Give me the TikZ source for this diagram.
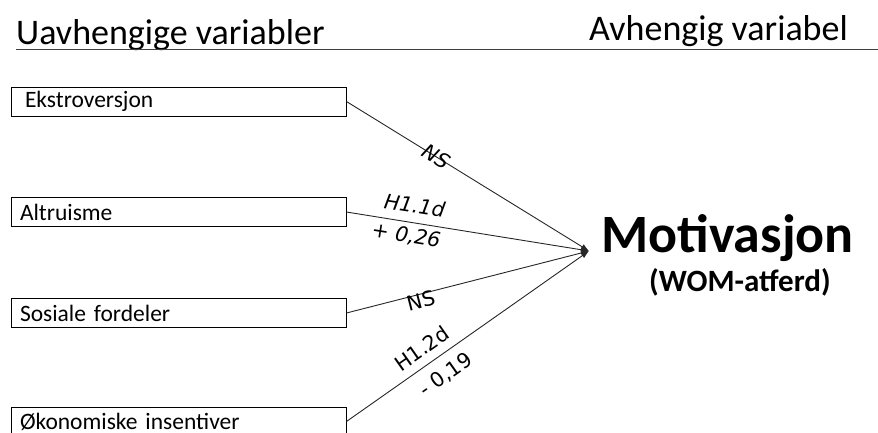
\documentclass[tikz,border=0pt]{standalone}
\usepackage{fontspec}
\setmainfont{Carlito}
\newfontfamily\lblfont{DejaVu Sans}
\usetikzlibrary{arrows.meta}

\tikzset{
  varbox/.style={draw=black, line width=0.9pt, minimum width=335pt, minimum height=29pt,
    text width=317pt, align=left, inner xsep=9pt, inner ysep=0pt,
    font=\fontsize{23.5}{25}\selectfont},
  link/.style={draw=black!85, line width=0.9pt, -{Latex[length=8pt,width=6pt]}},
  coef/.style={sloped, inner sep=1pt, font=\lblfont\fontsize{20.5}{22}\selectfont},
  coefit/.style={coef, font=\lblfont\itshape\fontsize{20.5}{22}\selectfont},
  header/.style={inner sep=0pt, font=\fontsize{36}{38}\selectfont}
}

\begin{document}
\begin{tikzpicture}[x=1pt, y=-1pt]
\useasboundingbox (0,0) rectangle (878,432);
\clip (0,0) rectangle (878,432);

% column headers and rule
\node[header, anchor=base west] (hl) at (16,44.5) {Uavhengige variabler};
\node[header, anchor=base east] (hr) at (848,40.5) {Avhengig variabel};
\draw[line width=1.3pt, black!75] (16,49.5) -- (878,49.5);

% independent variables
\node[varbox] (ek) at (178.5,101.5) {\hspace{5pt}Ekstroversjon};
\node[varbox] (al) at (178.5,212) {Altruisme};
\node[varbox] (so) at (178.5,313) {Sosiale fordeler};
\node[varbox] (ok) at (178.5,421.5) {Økonomiske insentiver};

% dependent variable
\coordinate (m) at (589,251);
\node[inner sep=0pt, anchor=base west, font=\bfseries\fontsize{54}{56}\selectfont] (mot) at (601,252) {Motivasjon};
\node[inner sep=0pt, anchor=base west, font=\bfseries\fontsize{31}{33}\selectfont] (wom) at (649,291) {(WOM-atferd)};

% paths
\draw[link] (ek.east) -- node[coefit, pos=0.37] {NS} (m);
\draw[link] (al.east) -- node[coefit, pos=0.27, above=8pt] {H1.1d}
                         node[coefit, pos=0.255, below=3.5pt] {+ 0,26} (m);
\draw[link] (so.east) -- node[coef, pos=0.30, yshift=-6.5pt] {NS} (m);
\draw[link] (ok.east) -- node[coef, pos=0.35, above=7pt] {H1.2d}
                         node[coef, pos=0.365, below=9pt] {- 0,19} (m);
\end{tikzpicture}
\end{document}
